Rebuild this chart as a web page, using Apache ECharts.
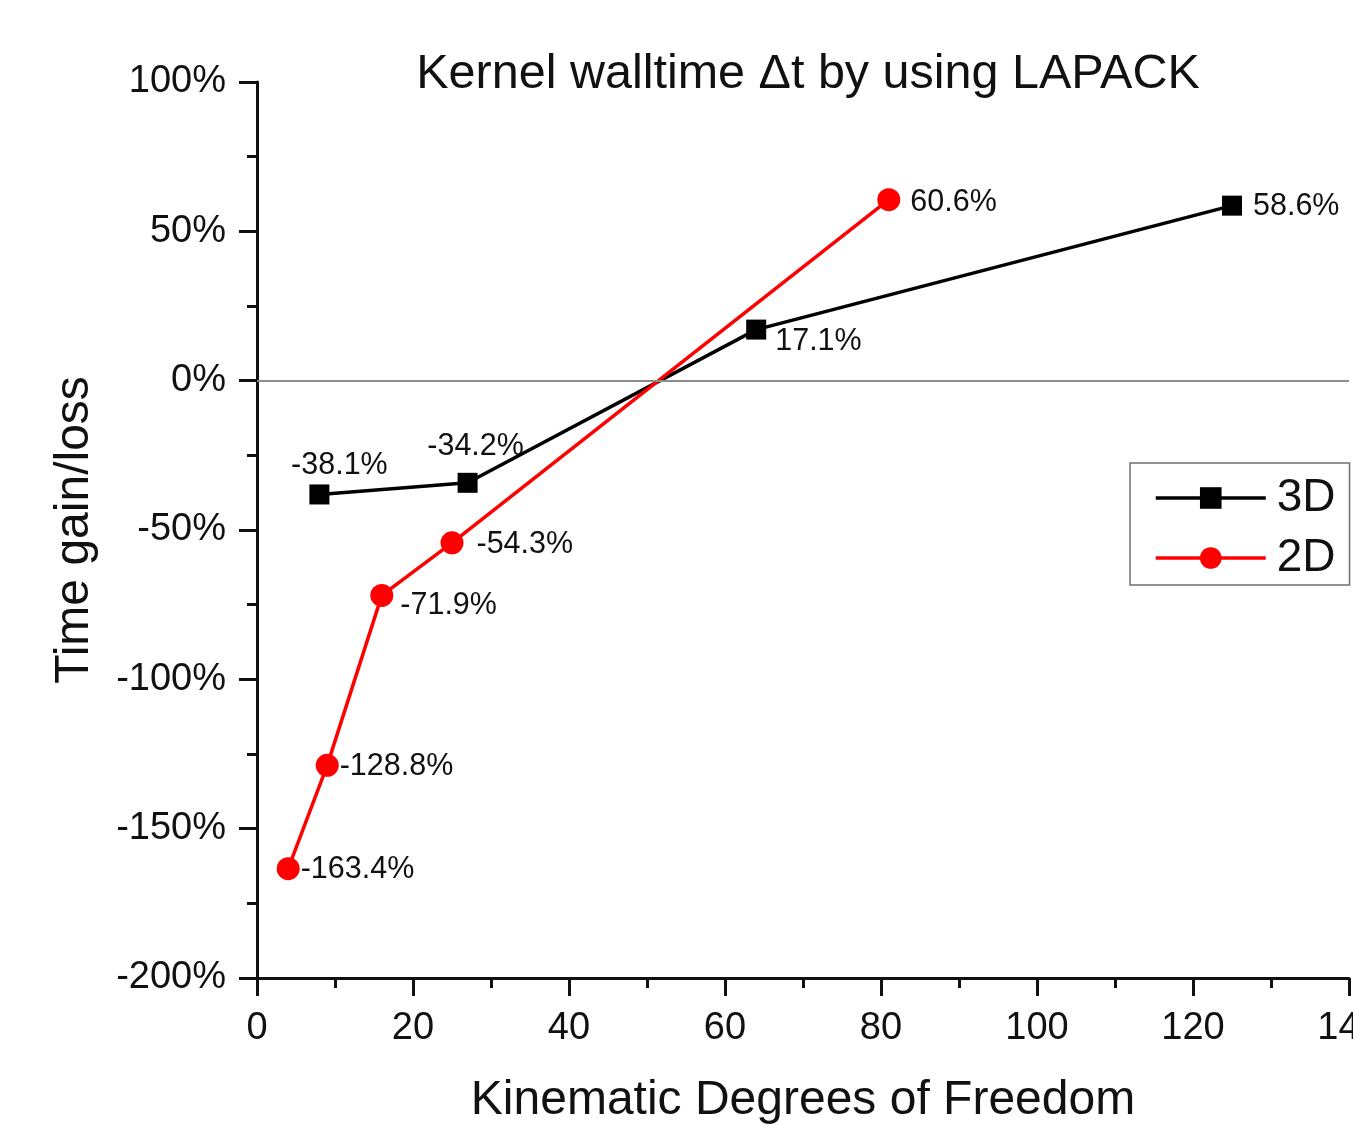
<!DOCTYPE html>
<html>
<head>
<meta charset="utf-8">
<title>Kernel walltime</title>
<script src="https://cdn.jsdelivr.net/npm/echarts@6/dist/echarts.min.js"></script>
<style>
  html, body { margin: 0; padding: 0; background: #fff; }
  #chart { width: 1353px; height: 1125px; }
</style>
</head>
<body>
<div id="chart"></div>
<script>
// Kinematic degrees of freedom vs. time gain/loss (%)
const dof3D = [8, 27, 64, 125];
const gain3D = [-38.1, -34.2, 17.1, 58.6];
const dof2D = [4, 9, 16, 25, 81];
const gain2D = [-163.4, -128.8, -71.9, -54.3, 60.6];
const seriesNames = ['3D', '2D'];

const FONT = 'Liberation Sans, Arial, Helvetica, sans-serif';

// label placement for each point: [position, [dx, dy]]
const place3D = [['top', [20, 2]], ['top', [8, -6]], ['right', [4, 12]], ['right', [6, 1]]];
const place2D = [['right', [-4, 1]], ['right', [-4, 1]], ['right', [2, 10]], ['right', [8, 2]], ['right', [5, 3]]];

function buildData(xs, ys, places) {
  return xs.map((x, i) => ({
    value: [x, ys[i]],
    label: { position: places[i][0], offset: places[i][1] }
  }));
}

const labelStyle = {
  show: true,
  color: '#111',
  fontFamily: FONT,
  fontSize: 30.5,
  formatter: p => p.value[1].toFixed(1) + '%'
};

const chart = echarts.init(document.getElementById('chart'), null, { renderer: 'canvas' });
chart.setOption({
  backgroundColor: '#ffffff',
  animation: false,
  title: {
    text: 'Kernel walltime \u0394t by using LAPACK',
    left: 803,
    top: 45,
    textAlign: 'center',
    textStyle: { fontFamily: FONT, fontSize: 48.5, fontWeight: 'normal', color: '#111' }
  },
  legend: {
    data: seriesNames,
    orient: 'vertical',
    left: 1130,
    top: 463,
    itemWidth: 110,
    itemHeight: 27,
    itemGap: 14,
    padding: [12, 14, 4, 24],
    borderColor: '#6e6e6e',
    borderWidth: 1.5,
    lineStyle: { width: 3.5 },
    textStyle: { fontFamily: FONT, fontSize: 46, color: '#111', padding: [0, 0, 0, 6] }
  },
  grid: { left: 257, right: 4, top: 82, bottom: 147, containLabel: false, outerBoundsMode: 'none' },
  xAxis: {
    type: 'value',
    min: 0,
    max: 140,
    interval: 20,
    name: 'Kinematic Degrees of Freedom',
    nameLocation: 'middle',
    nameGap: 99,
    nameTextStyle: { fontFamily: FONT, fontSize: 48, color: '#111' },
    axisLine: { onZero: false, lineStyle: { color: '#111', width: 3 } },
    axisTick: { length: 18, lineStyle: { color: '#111', width: 3 } },
    minorTick: { show: true, splitNumber: 2, length: 10, lineStyle: { color: '#111', width: 3 } },
    axisLabel: { fontFamily: FONT, fontSize: 38, color: '#111', margin: 32 },
    splitLine: { show: false }
  },
  yAxis: {
    type: 'value',
    min: -200,
    max: 100,
    interval: 50,
    name: 'Time gain/loss',
    nameLocation: 'middle',
    nameGap: 158,
    nameTextStyle: { fontFamily: FONT, fontSize: 48, color: '#111' },
    axisLine: { show: true, lineStyle: { color: '#111', width: 3 } },
    axisTick: { show: true, length: 18, lineStyle: { color: '#111', width: 3 } },
    minorTick: { show: true, splitNumber: 2, length: 10, lineStyle: { color: '#111', width: 3 } },
    axisLabel: { fontFamily: FONT, fontSize: 38, color: '#111', margin: 31, formatter: '{value}%' },
    splitLine: { show: false }
  },
  series: [
    {
      name: seriesNames[0],
      type: 'line',
      data: buildData(dof3D, gain3D, place3D),
      symbol: 'rect',
      symbolSize: 20,
      color: '#000000',
      lineStyle: { color: '#000000', width: 3.5 },
      itemStyle: { color: '#000000' },
      label: labelStyle,
      z: 3,
      markLine: {
        silent: true,
        symbol: 'none',
        label: { show: false },
        lineStyle: { color: '#8c8c8c', width: 2, type: 'solid' },
        data: [{ yAxis: 0 }]
      }
    },
    {
      name: seriesNames[1],
      type: 'line',
      data: buildData(dof2D, gain2D, place2D),
      symbol: 'circle',
      symbolSize: 23,
      color: '#ff0000',
      lineStyle: { color: '#ff0000', width: 3.5 },
      itemStyle: { color: '#ff0000' },
      label: labelStyle,
      z: 4
    }
  ]
});
</script>
</body>
</html>
